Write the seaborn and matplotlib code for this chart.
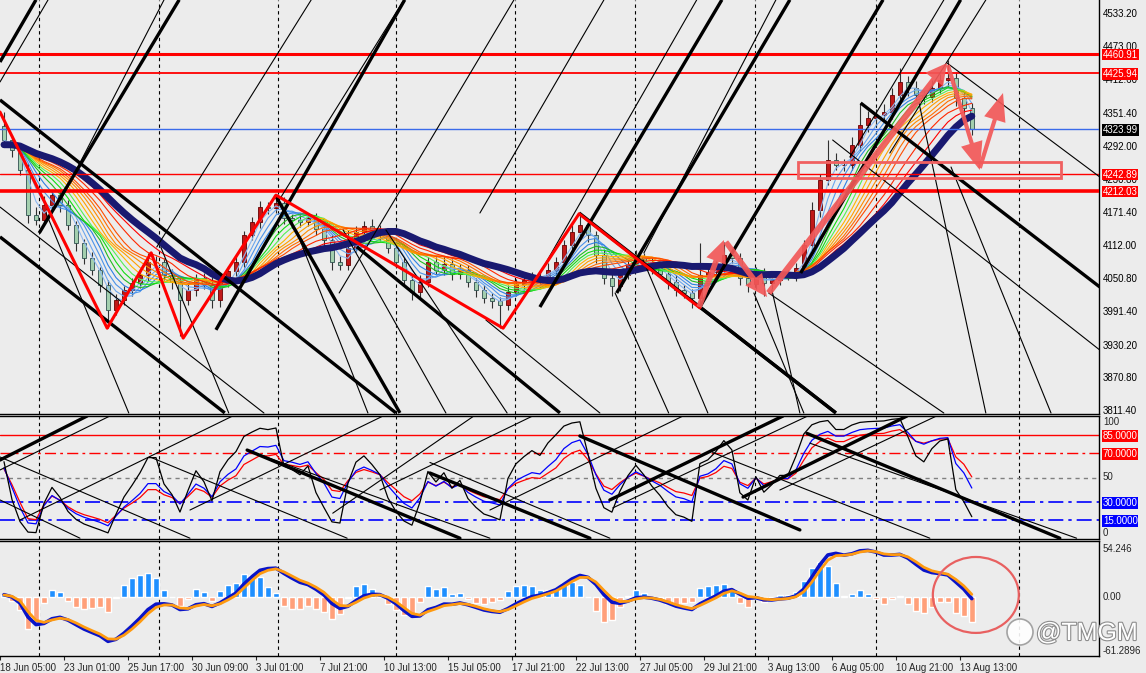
import numpy as np
import pandas as pd
import matplotlib
matplotlib.use("Agg")
import matplotlib.pyplot as plt
import matplotlib.transforms as mtransforms
import matplotlib.patheffects as pe
from matplotlib.patches import Rectangle, Ellipse
import seaborn as sns

# ---------------- data ----------------
# closes before the visible window (estimated from where the moving averages start)
prior_closes = [4288, 4296, 4302, 4291, 4285, 4298, 4305, 4294, 4287, 4299,
                4303, 4290, 4284, 4297, 4301, 4292, 4289, 4300, 4306]
closes = [4304, 4286, 4250, 4168, 4159, 4186, 4204, 4186, 4150, 4117,
          4090, 4068, 4041, 3995, 4013, 4031, 4044, 4059, 4082, 4082,
          4059, 4046, 4013, 4031, 4053, 4041, 4013, 4046, 4066, 4082,
          4131, 4155, 4182, 4181, 4190, 4162, 4159, 4155, 4162, 4142,
          4122, 4082, 4077, 4108, 4137, 4148, 4141, 4133, 4108, 4082,
          4050, 4028, 4046, 4082, 4068, 4079, 4061, 4068, 4046, 4031,
          4017, 4011, 4004, 4028, 4042, 4050, 4057, 4055, 4068, 4082,
          4113, 4137, 4150, 4131, 4095, 4053, 4039, 4059, 4077, 4091,
          4082, 4071, 4061, 4046, 4031, 4026, 4017, 4059, 4064, 4075,
          4095, 4090, 4053, 4042, 4062, 4044, 4050, 4057, 4057, 4071,
          4113, 4177, 4231, 4268, 4259, 4259, 4295, 4331, 4344, 4350,
          4355, 4386, 4410, 4399, 4386, 4382, 4399, 4413, 4417, 4380,
          4362, 4324]
first_open = 4330
upper_wicks = [25, 10, 8, 12, 14, 16, 10, 8, 9, 7,
               8, 10, 6, 9, 12, 8, 10, 9, 17, 12,
               8, 10, 9, 12, 8, 10, 14, 8, 9, 11,
               8, 10, 12, 9, 14, 10, 8, 12, 9, 10,
               8, 9, 12, 32, 10, 8, 12, 9, 8, 10,
               9, 8, 12, 10, 9, 14, 8, 10, 9, 8,
               10, 9, 8, 12, 9, 10, 8, 9, 12, 10,
               9, 12, 20, 10, 8, 9, 12, 10, 9, 14,
               8, 10, 9, 8, 12, 9, 8, 58, 10, 9,
               24, 10, 9, 8, 12, 10, 9, 8, 10, 9,
               10, 14, 12, 36, 12, 10, 14, 40, 12, 10,
               14, 12, 25, 10, 12, 9, 14, 12, 32, 10,
               12, 10]
lower_wicks = [10, 12, 9, 14, 10, 8, 9, 12, 10, 14,
               12, 10, 14, 33, 9, 8, 10, 9, 12, 8,
               10, 12, 66, 9, 10, 8, 14, 12, 9, 10,
               8, 9, 10, 12, 9, 10, 14, 9, 8, 10,
               12, 14, 9, 10, 8, 9, 10, 12, 9, 10,
               12, 14, 9, 10, 8, 10, 12, 9, 10, 12,
               10, 12, 42, 9, 8, 10, 9, 12, 10, 9,
               8, 9, 10, 12, 14, 10, 18, 9, 8, 10,
               9, 10, 8, 12, 10, 9, 18, 9, 10, 8,
               9, 10, 12, 14, 9, 24, 10, 9, 8, 10,
               8, 10, 12, 9, 10, 12, 9, 10, 12, 14,
               10, 12, 9, 14, 10, 12, 9, 10, 12, 14,
               12, 10]

time_labels = ["18 Jun 05:00", "23 Jun 01:00", "25 Jun 17:00", "30 Jun 09:00",
               "3 Jul 01:00", "7 Jul 21:00", "10 Jul 13:00", "15 Jul 05:00",
               "17 Jul 21:00", "22 Jul 13:00", "27 Jul 05:00", "29 Jul 21:00",
               "3 Aug 13:00", "6 Aug 05:00", "10 Aug 21:00", "13 Aug 13:00"]
grid_bars = [4.4, 19.4, 34.25, 49, 63.9, 78.9, 93.9, 109, 126.9]

price_ticks = [4533.20, 4473.00, 4412.60, 4351.40, 4292.00, 4230.80, 4171.40,
               4112.00, 4050.80, 3991.40, 3930.20, 3870.80, 3811.40]
red_levels = [4460.91, 4425.94, 4242.89, 4212.03]
last_price = 4323.99
osc_red_levels = [85, 70]
osc_blue_levels = [30, 15]
macd_labels = [54.246, 0.00, -61.2896]

ribbon_periods = [3, 4, 5, 6, 7, 8, 9, 10, 11, 12, 13, 14, 16, 18]
slow_period = 20
rsi_periods = [4, 8, 11]

zigzag_bar = [-0.5, 12.9, 18.4, 22.4, 34.0, 62.4, 71.9, 87.0]
zigzag_price = [4355, 3962, 4099, 3944, 4204, 3962, 4170, 3999]

thick_x0 = [-0.5, 4.4, 26.5, 67.0, 76.6, 87.0, 99.6, -0.5, -0.5, 33.9, 44.1, 71.9, 87.0, 107.1]
thick_p0 = [4446, 4135, 3959, 4000.5, 4026, 4000.7, 4062.3, 4377, 4128, 4204, 4110, 4171.4, 4000.5, 4371.4]
thick_x1 = [4.0, 21.9, 50.1, 89.75, 98.25, 109.9, 119.6, 49.0, 27.6, 49.5, 69.5, 104.0, 104.0, 137.0]
thick_p1 = [4559, 4559, 4559, 4559, 4559, 4559, 4559, 3808, 3808, 3808, 3808, 3808, 3808, 4036.9]

thin_x0 = [-0.5, 7.1, 19.1, 34.4, 41.9, 59.5, 67.0, 80.0, 105.75, 110.75,
           -0.5, 5.25, 19.6, 37.0, 42.4, 47.75, 60.25, 76.4, 79.9, 93.75, 95.6,
           103.6, 114.4, 117.9, 118.4, 96.0]
thin_p0 = [4409.6, 4195, 4109.6, 4195, 4026, 4171.4, 4062, 4098.7, 4273.2, 4280.5,
           4182.3, 4171.4, 4109.6, 4122.3, 4140.5, 4140.5, 3976.9, 4026, 4086, 4026, 4026,
           4304.1, 4371.4, 4444.1, 4255, 4031.4]
thin_x1 = [5.5, 20.0, 38.4, 50.0, 63.75, 75.0, 86.6, 96.5, 117.5, 122.75,
           32.5, 15.6, 28.1, 45.5, 55.25, 62.9, 74.5, 83.1, 88.0, 100.0, 117.5,
           137.0, 122.75, 137.0, 130.9, 99.5]
thin_p1 = [4558.7, 4558.7, 4558.7, 4558.7, 4558.7, 4558.7, 4558.7, 4558.7, 4558.7, 4558.7,
           3807.8, 3807.8, 3807.8, 3807.8, 3807.8, 3807.8, 3807.8, 3807.8, 3807.8, 3807.8, 3807.8,
           3922.3, 3807.8, 4236.9, 3807.8, 3807.8]

osc_thick_x0 = [-0.5, 30.4, 53.25, 72.0, 75.75, 92.4, 100.4]
osc_thick_v0 = [64.4, 72.6, 53.7, 84.2, 31.5, 33.9, 86.3]
osc_thick_x1 = [10.4, 57.0, 73.25, 99.5, 97.4, 112.9, 132.0]
osc_thick_v1 = [100.7, 0.0, 0.0, 6.8, 100.7, 100.7, 0.0]

osc_thin_x0 = [-0.5, 2.0, 23.25, 41.1, 47.0, 60.75, 76.1, 97.0, -0.5, -0.5, 18.25, 30.4, 53.25, 88.6, 100.75]
osc_thin_v0 = [56.2, 15.0, 23.2, 20.6, 39.7, 23.2, 24.9, 39.7, 66.9, 31.5, 66.9, 72.6, 62.4, 70.6, 78.3]
osc_thin_x1 = [13.25, 28.6, 47.4, 58.75, 66.1, 84.9, 100.5, 116.6, 23.25, 9.5, 42.9, 60.75, 75.75, 115.75, 134.1]
osc_thin_v1 = [100.7, 100.7, 100.7, 100.7, 100.7, 100.7, 100.7, 100.7, 0.0, 0.0, 0.0, 0.0, 0.0, 0.0, 0.0]

arrow_x0 = [95.6, 118.0, 122.0, 86.9, 90.25]
arrow_p0 = [4026, 4440.5, 4253.2, 4000.5, 4118.7]
arrow_x1 = [117.9, 122.0, 124.9, 90.0, 95.4]
arrow_p1 = [4444.1, 4249.6, 4389.6, 4122.3, 4018.7]

zone_bars = [99.25, 132.1]
zone_prices = [4235.0, 4264.1]

circle_center = (121.5, 2.2)
circle_size = (10.75, 86.0)

# ---------------- derived (indicators) ----------------
n = len(closes)
k = len(prior_closes)
full = pd.Series(prior_closes + closes, dtype=float)
df = pd.DataFrame({"bar": np.arange(n), "close": np.array(closes, float)})
df["open"] = [first_open] + closes[:-1]
df["high"] = np.maximum(df["open"], df["close"]) + np.array(upper_wicks)
df["low"] = np.minimum(df["open"], df["close"]) - np.array(lower_wicks)


def rsi(series, p):
    d = series.diff().fillna(0)
    g = d.clip(lower=0).ewm(alpha=1 / p, adjust=False).mean()
    l = (-d.clip(upper=0)).ewm(alpha=1 / p, adjust=False).mean()
    return (100 - 100 / (1 + g / l)).to_numpy()[k:]


df["rsi_fast"] = rsi(full, rsi_periods[0])
df["rsi_mid"] = rsi(full, rsi_periods[1])
df["rsi_slow"] = rsi(full, rsi_periods[2])
ema_f = full.ewm(span=5, adjust=False).mean()
ema_s = full.ewm(span=10, adjust=False).mean()
macd_full = ema_f - ema_s
sig_full = macd_full.ewm(span=2, adjust=False).mean()
df["macd"] = macd_full.to_numpy()[k:]
df["signal"] = sig_full.to_numpy()[k:]
df["hist"] = (df["macd"] - df["signal"]) * 6

# ---------------- style ----------------
bg = "#ECECEC"
sns.set_style("white")
plt.rcParams["font.family"] = ["Liberation Sans", "DejaVu Sans"]
plt.rcParams["axes.facecolor"] = bg

W, H = 1146, 673
fig = plt.figure(figsize=(W / 100, H / 100), dpi=100, facecolor=bg)


def rect(y0, y1, x0=0, x1=1099):
    return [x0 / W, 1 - y1 / H, (x1 - x0) / W, (y1 - y0) / H]


ax = fig.add_axes(rect(0, 414))
axo = fig.add_axes(rect(416, 539), sharex=ax)
axm = fig.add_axes(rect(541, 656), sharex=ax)

for a in (ax, axo, axm):
    a.set_facecolor(bg)
    a.spines["left"].set_visible(False)
    for sp in ("right", "bottom", "top"):
        a.spines[sp].set_color("black")
        a.spines[sp].set_linewidth(1.0)
    a.set_xlim(-0.5, 136.9)
    for gb in grid_bars:
        a.axvline(gb, color="black", lw=0.8, ls=(0, (3, 3)), zorder=1)
    a.tick_params(left=False, labelleft=False)
ax.spines["top"].set_visible(False)

ax.set_ylim(3806.0, 4558.65)
axo.set_ylim(-0.66, 100.66)
axm.set_ylim(-66.95, 63.3)

# ---------------- main panel ----------------
up = df["close"] >= df["open"]
ax.vlines(df["bar"], df["low"], df["high"], color="#303030", lw=0.8, zorder=3)
ax.bar(df["bar"][up], (df["close"] - df["open"])[up], bottom=df["open"][up], width=0.55,
       color="#C01818", edgecolor="#6A0000", lw=0.6, zorder=3)
ax.bar(df["bar"][~up], (df["open"] - df["close"])[~up], bottom=df["close"][~up], width=0.55,
       color="#A3CFAE", edgecolor="#2F4F4F", lw=0.6, zorder=3)

ribbon_colors = ["#8CB8F0", "#6AA6EE", "#4A93EA", "#2E80E4", "#22BB22", "#11DD11", "#55EE55",
                 "#FFB400", "#FFA000", "#FF8C00", "#FF6E00", "#FF4C00", "#FF2800", "#FF0000"]
for per, c in zip(ribbon_periods, ribbon_colors):
    ma = full.rolling(per).mean().to_numpy()[k:]
    sns.lineplot(x=df["bar"], y=ma, ax=ax, color=c, lw=0.8, zorder=4)
sns.lineplot(x=df["bar"], y=full.rolling(slow_period).mean().to_numpy()[k:], ax=ax,
             color="#191970", lw=5, zorder=5)

level_widths = [2.2, 1.3, 1.0, 2.6]
for lvl, lw in zip(red_levels, level_widths):
    ax.axhline(lvl, color="#FF0000", lw=lw, zorder=6)
ax.axhline(last_price, color="#3A6BEA", lw=1.0, zorder=6)

for x0, p0, x1, p1 in zip(thick_x0, thick_p0, thick_x1, thick_p1):
    ax.plot([x0, x1], [p0, p1], color="black", lw=2.4, zorder=7, solid_capstyle="butt")
for x0, p0, x1, p1 in zip(thin_x0, thin_p0, thin_x1, thin_p1):
    ax.plot([x0, x1], [p0, p1], color="black", lw=0.8, zorder=7)

ax.plot(zigzag_bar, zigzag_price, color="#FF0000", lw=2.2, zorder=8)

ax.add_patch(Rectangle((zone_bars[0], zone_prices[0]), zone_bars[1] - zone_bars[0],
                       zone_prices[1] - zone_prices[0], fill=False, ec="#F06060", lw=2.0, zorder=8))

arrow_styles = ["simple,head_length=1.5,head_width=1.6,tail_width=0.45",
                "simple,head_length=2.0,head_width=1.6,tail_width=0.3",
                "simple,head_length=2.0,head_width=1.6,tail_width=0.3",
                "simple,head_length=1.6,head_width=1.5,tail_width=0.4",
                "simple,head_length=1.6,head_width=1.5,tail_width=0.4"]
for x0, p0, x1, p1, st in zip(arrow_x0, arrow_p0, arrow_x1, arrow_p1, arrow_styles):
    ax.annotate("", xy=(x1, p1), xytext=(x0, p0),
                arrowprops=dict(arrowstyle=st, color="#F25858", alpha=0.92, lw=0,
                                shrinkA=0, shrinkB=0, mutation_scale=10), zorder=9)

# right axis labels main
tr = mtransforms.blended_transform_factory(ax.transAxes, ax.transData)
for t in price_ticks:
    ax.text(1.0035, t, f"{t:.2f}", transform=tr, fontsize=7, va="center", ha="left",
            color="black", clip_on=False, zorder=10)
boxes = [(4460.91, "#FF0000"), (4425.94, "#FF0000"), (4242.89, "#FF0000"),
         (4212.03, "#FF0000"), (last_price, "#000000")]
for v, c in boxes:
    ax.text(1.0035, v, f"{v:.2f}", transform=tr, fontsize=7, va="center_baseline", ha="left",
            color="white", clip_on=False, zorder=11,
            bbox=dict(boxstyle="square,pad=0.06", fc=c, ec="none"))

# ---------------- oscillator ----------------
axo.axhline(85, color="#FF0000", lw=1.0, zorder=2)
axo.axhline(70, color="#FF0000", lw=1.0, ls=(0, (8, 3, 2, 3)), zorder=2)
axo.axhline(50, color="#808080", lw=1.0, ls=(0, (3, 3)), zorder=2)
for lvl in osc_blue_levels:
    axo.axhline(lvl, color="#0000FF", lw=1.2, ls=(0, (9, 3, 2, 3)), zorder=2)
sns.lineplot(x=df["bar"], y=df["rsi_slow"], ax=axo, color="#FF0000", lw=0.9, zorder=4)
sns.lineplot(x=df["bar"], y=df["rsi_mid"], ax=axo, color="#0000FF", lw=0.9, zorder=4)
sns.lineplot(x=df["bar"], y=df["rsi_fast"], ax=axo, color="black", lw=0.9, zorder=4)
for x0, v0, x1, v1 in zip(osc_thick_x0, osc_thick_v0, osc_thick_x1, osc_thick_v1):
    axo.plot([x0, x1], [v0, v1], color="black", lw=2.4, zorder=5)
for x0, v0, x1, v1 in zip(osc_thin_x0, osc_thin_v0, osc_thin_x1, osc_thin_v1):
    axo.plot([x0, x1], [v0, v1], color="black", lw=0.8, zorder=5)

tro = mtransforms.blended_transform_factory(axo.transAxes, axo.transData)
axo.text(1.0035, 100, "100", transform=tro, fontsize=7, va="top", ha="left", clip_on=False)
axo.text(1.0035, 50, "50", transform=tro, fontsize=7, va="center", ha="left", clip_on=False)
axo.text(1.0035, 0, "0", transform=tro, fontsize=7, va="bottom", ha="left", clip_on=False)
for v in osc_red_levels:
    axo.text(1.0035, v, f"{v:.4f}", transform=tro, fontsize=7, va="center_baseline", ha="left",
             color="white", clip_on=False, zorder=11,
             bbox=dict(boxstyle="square,pad=0.08", fc="#FF0000", ec="none"))
for v in osc_blue_levels:
    axo.text(1.0035, v, f"{v:.4f}", transform=tro, fontsize=7, va="center_baseline", ha="left",
             color="white", clip_on=False, zorder=11,
             bbox=dict(boxstyle="square,pad=0.08", fc="#0000FF", ec="none"))

# ---------------- MACD ----------------
pos = df["hist"] >= 0
axm.bar(df["bar"][pos], df["hist"][pos], width=0.75, color="#1E8FFF", zorder=3)
axm.bar(df["bar"][~pos], df["hist"][~pos], width=0.75, color="#FFA07A", zorder=3)
sns.lineplot(x=df["bar"], y=df["macd"], ax=axm, color="#0A14C8", lw=2.6, zorder=4)
sns.lineplot(x=df["bar"], y=df["signal"], ax=axm, color="#FF9A10", lw=2.0, zorder=5)
axm.add_patch(Ellipse(circle_center, circle_size[0], circle_size[1], fill=False,
                      ec="#E86060", lw=1.6, zorder=6))

trm = mtransforms.blended_transform_factory(axm.transAxes, axm.transData)
axm.text(1.0035, macd_labels[0], "54.246", transform=trm, fontsize=7, va="center", ha="left", clip_on=False)
axm.text(1.0035, macd_labels[1], "0.00", transform=trm, fontsize=7, va="center", ha="left", clip_on=False)
axm.text(1.0035, macd_labels[2], "-61.2896", transform=trm, fontsize=7, va="center", ha="left", clip_on=False)

for a in (ax, axo, axm):
    a.set_xlabel("")
    a.set_ylabel("")
    a.tick_params(right=False, labelright=False, bottom=False, labelbottom=False)

tick_pos = [8 * i - 0.5 for i in range(len(time_labels))]
axm.set_xticks(tick_pos)
axm.set_xticklabels(time_labels, fontsize=7, ha="left")
axm.tick_params(bottom=True, labelbottom=True, length=3, pad=2, direction="out", width=0.8)

# watermark
fig.add_artist(Ellipse((1020 / W, 1 - 632 / H), 26 / W, 26 / H, transform=fig.transFigure,
                       fc="white", ec="#9a9a9a", lw=1.2, alpha=0.9))
fig.text(1036 / W, 1 - 633 / H, "@TMGM", fontsize=18, color="white", va="center", ha="left",
         path_effects=[pe.withStroke(linewidth=1.6, foreground="#8c8c8c")])

fig.savefig("out.png", dpi=100, facecolor=bg)
